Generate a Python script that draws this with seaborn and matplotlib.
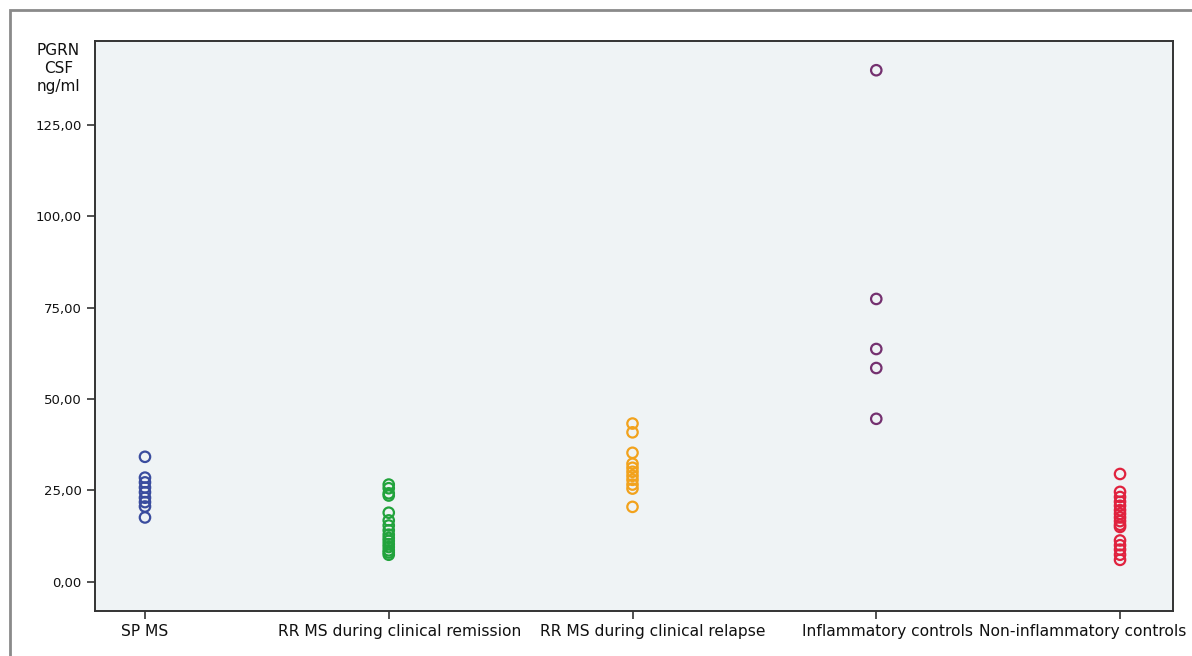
import matplotlib
matplotlib.use("Agg")
import matplotlib.pyplot as plt
import matplotlib.transforms as mtrans
import seaborn as sns
import pandas as pd
from matplotlib.patches import Rectangle
from matplotlib.ticker import FuncFormatter

# group labels, in axis order
groups = [
    "SP MS",
    "RR MS during clinical remission",
    "RR MS during clinical relapse",
    "Inflammatory controls",
    "Non-inflammatory controls",
]

# CSF PGRN values (ng/ml)
sp_ms = [34.2, 28.5, 27.2, 25.8, 24.5, 23.0, 21.8, 20.6, 17.6]
rr_remission = [26.6, 25.6, 24.2, 23.6, 18.9, 16.8, 15.4, 14.1, 12.9,
                12.0, 11.2, 10.3, 9.5, 8.6, 8.0, 7.4]
rr_relapse = [43.3, 40.9, 35.3, 32.3, 31.2, 30.1, 29.0, 27.9, 26.6, 25.5, 20.5]
inflammatory = [140.0, 77.4, 63.7, 58.5, 44.6]
non_inflammatory = [29.5, 24.6, 23.2, 21.9, 20.8, 19.6, 18.6, 17.6, 16.6,
                    15.6, 15.0, 11.3, 10.0, 8.8, 7.4, 6.0]

colors = ["#3a4c9e", "#22a33c", "#f2a21c", "#74306f", "#e0223e"]

values = [sp_ms, rr_remission, rr_relapse, inflammatory, non_inflammatory]
df = pd.DataFrame({
    "group": [g for g, v in zip(groups, values) for _ in v],
    "pgrn": [x for v in values for x in v],
})

plt.rcParams["font.family"] = ["DejaVu Sans"]
fig = plt.figure(figsize=(11.92, 6.56), dpi=100)
fig.patch.set_facecolor("white")
ax = fig.add_axes([0.0797, 0.0686, 0.9043, 0.8689])
ax.set_facecolor("#eff3f5")

sns.stripplot(data=df, x="group", y="pgrn", hue="group", order=groups,
              hue_order=groups, palette=colors, jitter=False, size=7.5,
              legend=False, ax=ax)

# open circles like the original
for coll, c in zip(ax.collections, colors):
    coll.set_facecolor("none")
    coll.set_edgecolor(c)
    coll.set_linewidth(1.6)

ax.set_xlim(-0.205, 4.217)
ax.set_ylim(-8, 148)
ax.set_yticks([0, 25, 50, 75, 100, 125])
ax.yaxis.set_major_formatter(FuncFormatter(lambda v, p: f"{v:.2f}".replace(".", ",")))
ax.set_xlabel("")
ax.set_ylabel("")
ax.tick_params(axis="both", direction="out", length=6, width=1.2, color="#333333",
               labelcolor="#111111")
ax.tick_params(axis="x", labelsize=11.2)
ax.tick_params(axis="y", labelsize=9.5)
for s in ax.spines.values():
    s.set_color("#333333")
    s.set_linewidth(1.4)

# the original nudges category labels sideways so they fit
shifts_px = [0, 11, 20, 11, -37]
for lab, dx in zip(ax.get_xticklabels(), shifts_px):
    lab.set_transform(lab.get_transform() +
                      mtrans.ScaledTranslation(dx / 100, 0, fig.dpi_scale_trans))

fig.text(0.049, 0.895, "PGRN\nCSF\nng/ml", ha="center", va="center",
         fontsize=11, linespacing=1.25, color="#111111")

# outer frame around the figure
fig.patches.append(Rectangle((10 / 1192, -0.02), 1.05, 1 - 10 / 656 + 0.02,
                             transform=fig.transFigure, fill=False,
                             edgecolor="#8a8a8a", linewidth=2))

fig.savefig("out.png", dpi=100)
